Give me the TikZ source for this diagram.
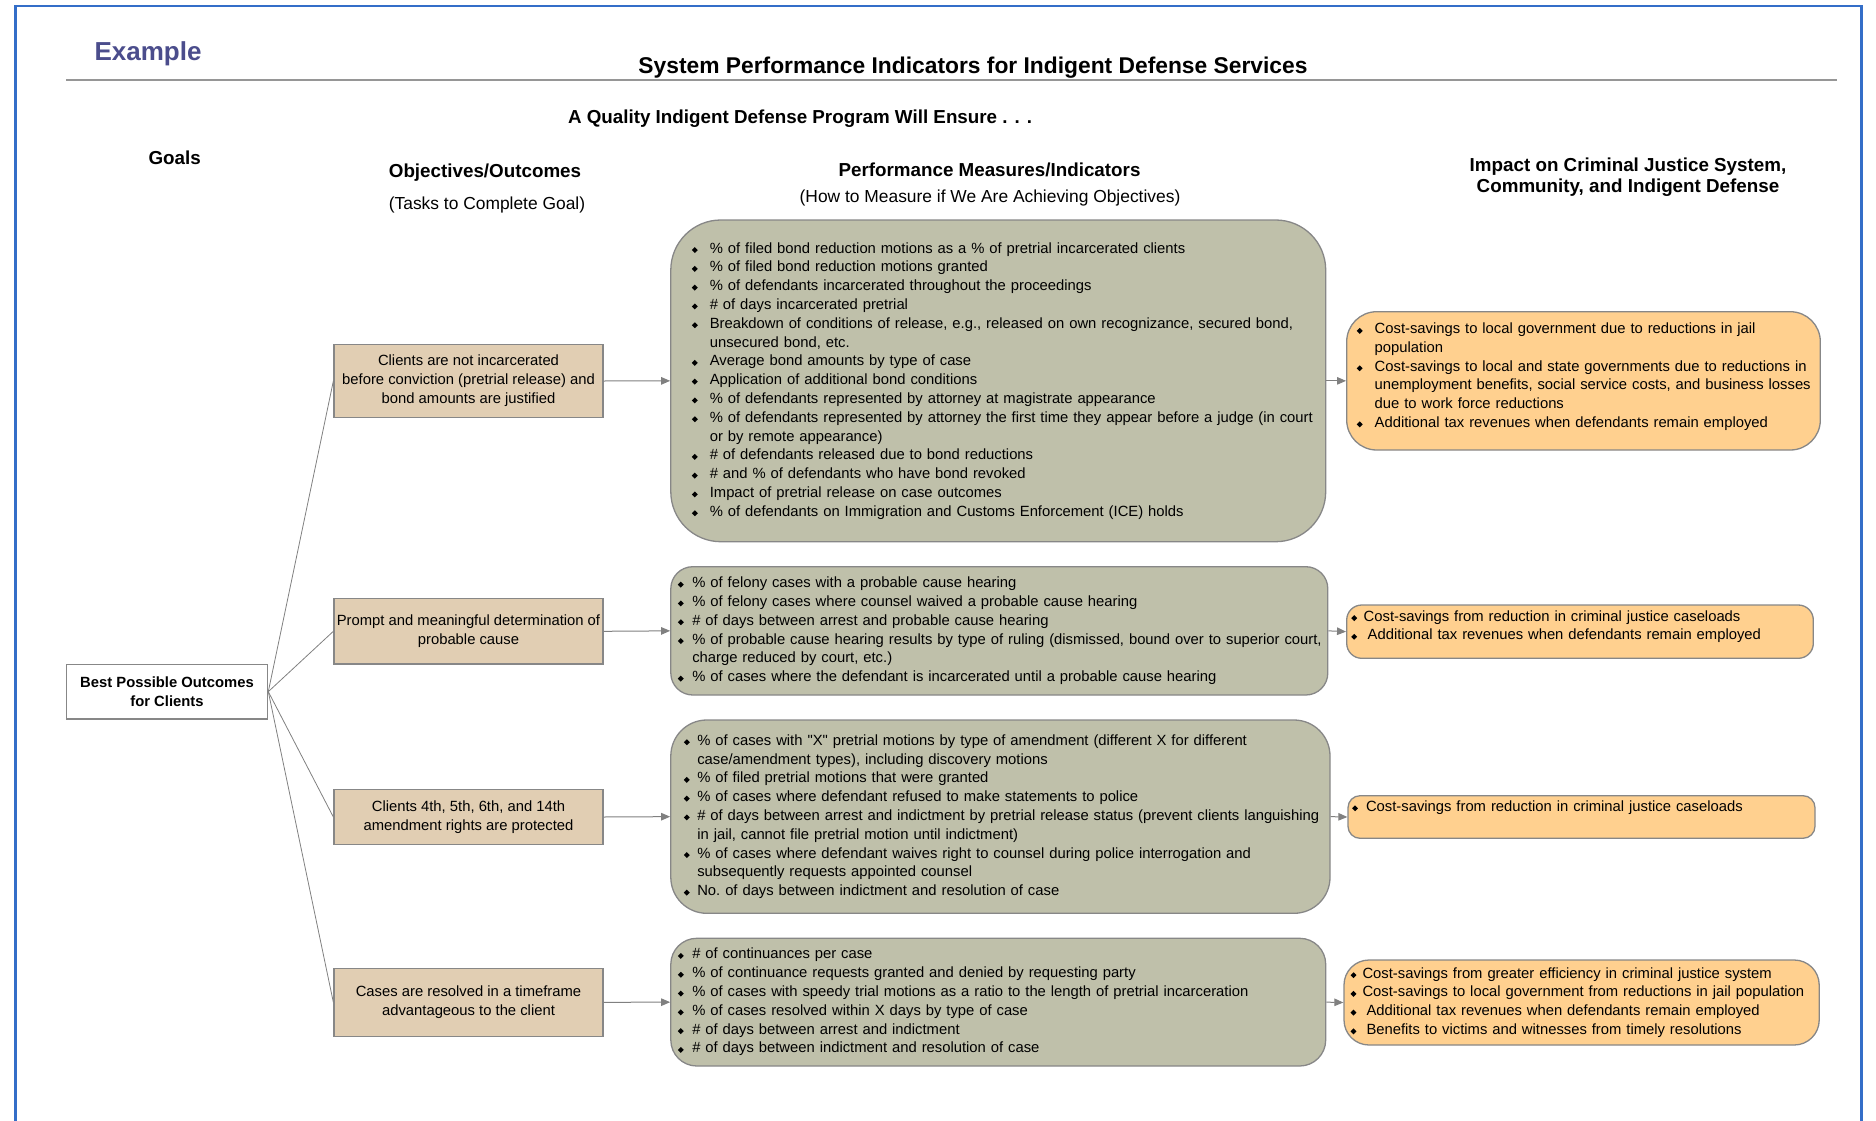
\documentclass[tikz,border=0pt]{standalone}
\usepackage{fontspec}
\setmainfont{Liberation Sans}[Ligatures=TeXOff]
\usetikzlibrary{arrows.meta}

\definecolor{frameblue}{RGB}{52,110,200}
\definecolor{examplecol}{RGB}{75,77,140}
\definecolor{rulegray}{RGB}{150,150,150}
\definecolor{boxgray}{RGB}{135,135,135}
\definecolor{linegray}{RGB}{128,128,128}
\definecolor{tanfill}{RGB}{225,206,179}
\definecolor{measfill}{RGB}{191,192,170}
\definecolor{impfill}{RGB}{255,208,143}

\newcommand\fs[2]{\fontsize{#1}{#2}\selectfont}
\newcommand\dia{\makebox[6pt]{\rotatebox{45}{\rule{4.2pt}{4.2pt}}}}
\newcommand\blist[2]{\begin{tabular}{@{}l@{\hspace{#1}}l@{}}#2\end{tabular}}

\begin{document}
\begin{tikzpicture}[x=1pt,y=-1pt,
    hd/.style={font=\bfseries\fs{18.8}{21.5},align=center},
    sub/.style={font=\fs{17.4}{20}},
    goal/.style={draw=boxgray,fill=white,line width=1.3pt,inner sep=0pt,align=center,font=\bfseries\fs{14.8}{19}},
    obj/.style={draw=boxgray,fill=tanfill,line width=1.3pt,minimum width=269pt,inner sep=0pt,align=center,font=\fs{14.8}{19}},
    meas/.style 2 args={draw=boxgray,fill=measfill,line width=1.3pt,rounded corners=#1,inner xsep=#2,inner ysep=0pt,align=left,font=\fs{14.8}{18.8}},
    imp/.style 2 args={draw=boxgray,fill=impfill,line width=1.3pt,rounded corners=#1,inner xsep=#2,inner ysep=0pt,align=left,font=\fs{14.8}{18.7}},
    link/.style={draw=linegray,line width=0.8pt},
    flow/.style={draw=linegray,line width=1pt,-{Triangle[length=9pt,width=7.5pt]}}]
  \useasboundingbox (0,0) rectangle (1876,1121);
  \draw[frameblue,line width=2.5pt] (15.6,1130) -- (15.6,6) -- (1861.6,6) -- (1861.6,1130);
  \draw[rulegray,line width=1.5pt] (66,80) -- (1836.6,80);

  \node[anchor=west,text=examplecol,font=\bfseries\fs{26}{30}] (example) at (91,53.5) {Example};
  \node[font=\bfseries\fs{22.8}{27}] (title) at (973,67.5) {System Performance Indicators for Indigent Defense Services};
  \node[hd] (ensure) at (800,119) {A Quality Indigent Defense Program Will Ensure . . .};
  \node[hd] (goals) at (174.7,158) {Goals};
  \node[hd] (objhd) at (485,172.4) {Objectives/Outcomes};
  \node[sub] (objsub) at (487,205.4) {(Tasks to Complete Goal)};
  \node[hd] (meashd) at (989.5,169.5) {Performance Measures/Indicators};
  \node[sub] (meassub) at (990,198.4) {(How to Measure if We Are Achieving Objectives)};
  \node[hd] (imphd) at (1628,177) {Impact on Criminal Justice System,\\Community, and Indigent Defense};

  \node[goal,minimum width=201.3pt,minimum height=54.7pt] (g) at (167,691.65) {Best Possible Outcomes\\for Clients};

  \node[obj,minimum height=73pt] (o1) at (468.5,381) {Clients are not incarcerated\\before conviction (pretrial release) and\\bond amounts are justified};
  \node[obj,minimum height=65.3pt] (o2) at (468.5,631.3) {Prompt and meaningful determination of\\probable cause};
  \node[obj,minimum height=55pt] (o3) at (468.5,817) {Clients 4th, 5th, 6th, and 14th\\amendment rights are protected};
  \node[obj,minimum height=68pt] (o4) at (468.5,1002.3) {Cases are resolved in a timeframe\\advantageous to the client};

  \node[meas={50pt}{21pt},minimum width=654.9pt,minimum height=321.7pt,text width=612.9pt] (m1) at (998.25,380.85) {\blist{12pt}{
    \dia & \% of filed bond reduction motions as a \% of pretrial incarcerated clients\\
    \dia & \% of filed bond reduction motions granted\\
    \dia & \% of defendants incarcerated throughout the proceedings\\
    \dia & \# of days incarcerated pretrial\\
    \dia & Breakdown of conditions of release, e.g., released on own recognizance, secured bond,\\
         & unsecured bond, etc.\\
    \dia & Average bond amounts by type of case\\
    \dia & Application of additional bond conditions\\
    \dia & \% of defendants represented by attorney at magistrate appearance\\
    \dia & \% of defendants represented by attorney the first time they appear before a judge (in court\\
         & or by remote appearance)\\
    \dia & \# of defendants released due to bond reductions\\
    \dia & \# and \% of defendants who have bond revoked\\
    \dia & Impact of pretrial release on case outcomes\\
    \dia & \% of defendants on Immigration and Customs Enforcement (ICE) holds}};
  \node[meas={22pt}{7pt},minimum width=657pt,minimum height=128.3pt,text width=643pt] (m2) at (999.3,630.85) {\blist{8.5pt}{
    \dia & \% of felony cases with a probable cause hearing\\
    \dia & \% of felony cases where counsel waived a probable cause hearing\\
    \dia & \# of days between arrest and probable cause hearing\\
    \dia & \% of probable cause hearing results by type of ruling (dismissed, bound over to superior court,\\
         & charge reduced by court, etc.)\\
    \dia & \% of cases where the defendant is incarcerated until a probable cause hearing}};
  \node[meas={36pt}{13pt},minimum width=659.2pt,minimum height=193.3pt,text width=633.2pt] (m3) at (1000.4,816.65) {\blist{7.5pt}{
    \dia & \% of cases with "X" pretrial motions by type of amendment (different X for different\\
         & case/amendment types), including discovery motions\\
    \dia & \% of filed pretrial motions that were granted\\
    \dia & \% of cases where defendant refused to make statements to police\\
    \dia & \# of days between arrest and indictment by pretrial release status (prevent clients languishing\\
         & in jail, cannot file pretrial motion until indictment)\\
    \dia & \% of cases where defendant waives right to counsel during police interrogation and\\
         & subsequently requests appointed counsel\\
    \dia & No.\ of days between indictment and resolution of case}};
  \node[meas={26pt}{7pt},minimum width=654.9pt,minimum height=127.7pt,text width=640.9pt] (m4) at (998.25,1002.15) {\blist{8.5pt}{
    \dia & \# of continuances per case\\
    \dia & \% of continuance requests granted and denied by requesting party\\
    \dia & \% of cases with speedy trial motions as a ratio to the length of pretrial incarceration\\
    \dia & \% of cases resolved within X days by type of case\\
    \dia & \# of days between arrest and indictment\\
    \dia & \# of days between indictment and resolution of case}};

  \node[imp={30pt}{10pt},minimum width=473.6pt,minimum height=138.3pt,text width=453.6pt] (i1) at (1583.5,380.85) {\blist{12pt}{
    \dia & Cost-savings to local government due to reductions in jail\\
         & population\\
    \dia & Cost-savings to local and state governments due to reductions in\\
         & unemployment benefits, social service costs, and business losses\\
         & due to work force reductions\\
    \dia & Additional tax revenues when defendants remain employed\\[8pt]}};
  \node[imp={15pt}{4.5pt},minimum width=466.6pt,minimum height=53.3pt,text width=457.6pt] (i2) at (1580,631.65) {\blist{6.5pt}{
    \dia & Cost-savings from reduction in criminal justice caseloads\\
    \dia & \hspace{4pt}Additional tax revenues when defendants remain employed\\[10pt]}};
  \node[imp={12pt}{4pt},minimum width=467pt,minimum height=42.6pt,text width=459pt] (i3) at (1581.5,817) {\blist{8pt}{
    \dia & Cost-savings from reduction in criminal justice caseloads\\[19pt]}};
  \node[imp={25pt}{6.5pt},minimum width=475.2pt,minimum height=85pt,text width=462.2pt] (i4) at (1581.6,1002.5) {\blist{6pt}{
    \dia & Cost-savings from greater efficiency in criminal justice system\\
    \dia & Cost-savings to local government from reductions in jail population\\
    \dia & \hspace{4pt}Additional tax revenues when defendants remain employed\\
    \dia & \hspace{4pt}Benefits to victims and witnesses from timely resolutions}};

  \draw[link] (g.east) -- (o1.west);
  \draw[link] (g.east) -- (o2.west);
  \draw[link] (g.east) -- (o3.west);
  \draw[link] (g.east) -- (o4.west);
  \draw[flow] (o1.east) -- (m1.west);
  \draw[flow] (o2.east) -- (m2.west);
  \draw[flow] (o3.east) -- (m3.west);
  \draw[flow] (o4.east) -- (m4.west);
  \draw[flow] (m1.east) -- (i1.west);
  \draw[flow] (m2.east) -- (i2.west);
  \draw[flow] (m3.east) -- (i3.west);
  \draw[flow] (m4.east) -- (i4.west);
\end{tikzpicture}
\end{document}
